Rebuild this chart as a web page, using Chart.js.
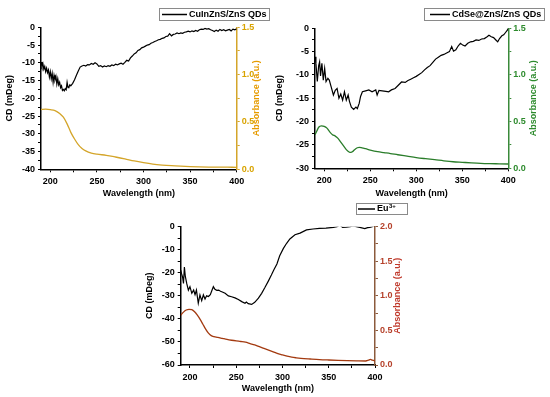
<!DOCTYPE html>
<html>
<head>
<meta charset="utf-8">
<script src="https://cdn.jsdelivr.net/npm/chart.js@4.4.1/dist/chart.umd.min.js"></script>
<style>
  html, body { margin: 0; padding: 0; background: #fff; }
  #wrap { position: relative; width: 550px; height: 397px; overflow: hidden; }
  canvas { position: absolute; }
</style>
</head>
<body>
<div id="wrap">
  <canvas id="c1" width="270" height="200" style="left:0;top:0"></canvas>
  <canvas id="c2" width="280" height="200" style="left:270px;top:0"></canvas>
  <canvas id="c3" width="280" height="202" style="left:140px;top:195px"></canvas>
</div>
<script>
// wavelength axis (nm)
const wlLabeled = [200, 250, 300, 350, 400];
const wlMinor = [225, 275, 325, 375];

// --- CuInZnS/ZnS QDs ---
const cuCdWl = [190,191,192,193,194,195,196,197,198,199,
  200,201,202,203,204,205,206,207,208,209,
  210,211,212,213,214,215,216,217,218,219,
  220,221,222,224,226,228,230,232,234,236,238,240,242,244,246,248,250,
  252,254,256,258,260,262,264,266,268,270,272,274,276,278,280,
  282,284,286,288,290,292,294,296,298,300,302,304,306,308,310,
  312,314,316,318,320,322,324,326,328,330,332,334,336,338,340,
  342,344,346,348,350,352,354,356,358,360,362,364,366,368,370,
  372,374,376,378,380,382,384,386,388,390,392,394,396,398,400];
const cuCd = [-9.8,-11,-10.2,-11.8,-11,-12.5,-11.5,-12.8,-12,-14,
  -12.5,-14.5,-13,-15.5,-13.5,-14.8,-13.8,-16,-14.5,-16.2,
  -15.5,-17,-16.5,-17.8,-17.5,-17.9,-17.3,-17.6,-15.5,-17,
  -16.8,-16.2,-16.5,-15.8,-14.8,-13.5,-12.3,-11.2,-10.9,-10.7,-10.9,-10.5,-10.6,-10.2,-10.4,-10,-10.3,
  -11,-10.8,-11.2,-10.9,-11.1,-10.8,-11,-10.6,-10.8,-10.4,-10.6,-10.3,-10.1,-10.4,-9.9,
  -9.3,-9.5,-8.6,-8.1,-7.5,-7.2,-6.5,-6.3,-5.8,-5.6,-5.3,-5.0,-4.9,-4.5,-4.3,
  -4.0,-3.8,-3.5,-3.4,-3.1,-3.0,-2.6,-2.5,-1.8,-2.4,-2.0,-1.9,-1.6,-1.8,-1.6,
  -1.7,-1.4,-1.3,-1.1,-1.3,-1.0,-1.2,-0.9,-1.1,-0.7,-0.5,-0.6,-0.3,-0.5,-0.4,
  -0.7,-0.9,-1.2,-0.8,-1.1,-0.6,-0.9,-0.7,-1.0,-0.8,-0.6,-1.0,-0.5,-0.7,-0.4];
const cuAbsWl = [190,195,200,205,210,214,218,222,226,230,234,238,244,250,
  260,270,280,290,300,310,320,330,340,350,360,370,380,390,400];
const cuAbs = [0.63,0.635,0.63,0.62,0.59,0.55,0.48,0.39,0.32,0.26,0.22,0.195,0.172,0.16,
  0.148,0.13,0.11,0.088,0.07,0.055,0.045,0.038,0.033,0.029,0.026,0.024,0.023,0.022,0.021];
const cuCdTicks = [0, -5, -10, -15, -20, -25, -30, -35, -40];
const cuCdMinor = [-2.5, -7.5, -12.5, -17.5, -22.5, -27.5, -32.5, -37.5];
const cuAbsTicks = [0, 0.5, 1.0, 1.5];
const cuAbsMinor = [0.25, 0.75, 1.25];

// --- CdSe@ZnS/ZnS QDs ---
const cdCdWl = [190,191,192.5,194,195,196,197.5,199,200.5,202,
  204,205.5,207.5,210,212,214,216,218,220,222,
  224,226,227.5,229.5,232,234.5,236,238,239.5,241.5,
  245,248.5,252,256,257.5,259.5,263,267,270,273,
  277,280.5,284,288,291,294,297,300,303,306,
  309,312,315,318,321,324,327,330,333,336,
  338.5,340.5,343,345.5,348,350.5,353,356,359,362,
  365,368,371,374,377,379,381.5,384,386.5,388.5,
  390.5,393,395,397,399,400];
const cdCd = [-6.1,-7.5,-11.4,-8,-7.2,-10.2,-7.5,-11.1,-8.6,-11.4,
  -10.7,-11.1,-12.5,-14.3,-13.3,-12.9,-15,-14.1,-15.4,-13.6,
  -15.4,-14.3,-15.7,-16.9,-17.4,-16.9,-17.2,-16.1,-14.6,-13.6,
  -13.4,-13.2,-13.6,-13.2,-14.3,-13.3,-13.4,-13.5,-13.6,-13.2,
  -12.9,-12.2,-11.5,-11.6,-11.2,-10.9,-10.6,-10.3,-9.9,-9.5,
  -8.9,-8.4,-8.0,-7.3,-6.6,-6.2,-5.8,-5.6,-5.3,-5.0,
  -3.9,-4.9,-4.6,-3.8,-3.2,-3.6,-3.8,-3.2,-2.9,-2.8,
  -2.5,-2.6,-2.3,-2.2,-1.8,-1.5,-1.8,-2.0,-2.5,-2.9,
  -2.2,-1.6,-1.4,-0.9,-0.4,0];
const cdAbsWl = [190,192,194,197,200,203,206,209,212,215,
  218,221,224,227,229,231,233,236,238,241,
  245,250,258,265,272,280,290,300,310,320,
  330,340,350,360,370,380,390,400];
const cdAbs = [0.36,0.40,0.44,0.455,0.45,0.43,0.39,0.36,0.345,0.32,
  0.28,0.24,0.20,0.175,0.17,0.18,0.20,0.22,0.225,0.22,
  0.21,0.196,0.178,0.168,0.158,0.145,0.13,0.115,0.103,0.092,
  0.08,0.07,0.064,0.058,0.053,0.05,0.048,0.046];
const cdCdTicks = [0, -5, -10, -15, -20, -25, -30];
const cdCdMinor = [-2.5, -7.5, -12.5, -17.5, -22.5, -27.5];
const cdAbsTicks = [0, 0.5, 1.0, 1.5];
const cdAbsMinor = [0.25, 0.75, 1.25];

// --- Eu3+ ---
const euCdWl = [190,191,192,193,194,195,196.5,198.3,200,202,
  204,205.5,207,209,210.8,212.7,214.5,216.3,218,220,
  222,223.5,225.3,227,229,231,233,235,238,241.5,
  245,248.7,252.3,256,259.5,261,263,266.7,270,274,
  277.5,281,284.7,288,291,294,297,301,304.5,308,
  313.5,319,326,333,340,347,355,359,362,365,
  369,373,376.4,380,383.6,389,392,394.4,397,400];
const euCd = [-18.8,-20.5,-21.8,-24.6,-17.5,-21.6,-24.6,-27.5,-26,-28.9,
  -27.5,-29.5,-27.5,-33.2,-29.6,-32.1,-29.6,-31.4,-30,-30.3,
  -29.5,-27.9,-26.0,-27.2,-27.6,-27.5,-28.0,-28.3,-28.9,-30.0,
  -30.4,-30.9,-31.6,-32.5,-33.2,-32.7,-33.4,-33.7,-32.8,-31.0,
  -28.9,-26.4,-23.6,-21.0,-18.5,-16.2,-12.6,-9.4,-7.2,-5.3,
  -3.5,-2.8,-1.4,-1.0,-0.7,-0.6,-0.3,0.0,0.7,-0.3,
  -0.2,0.0,0.3,0.0,-0.3,-0.8,-0.4,-0.3,0.0,0.6];
const euAbsWl = [190,193,196,199,202,205,208,211,214,217,
  220,223,226,230,235,240,245,250,255,260,
  265,270,275,280,285,290,295,300,305,310,
  315,320,330,340,350,360,370,380,390,393,
  395,397,400];
const euAbs = [0.72,0.765,0.795,0.805,0.80,0.77,0.72,0.66,0.59,0.52,
  0.46,0.425,0.41,0.40,0.385,0.37,0.358,0.348,0.34,0.33,
  0.31,0.29,0.265,0.24,0.215,0.19,0.165,0.145,0.127,0.113,
  0.104,0.097,0.087,0.078,0.072,0.067,0.063,0.06,0.058,0.07,
  0.08,0.072,0.06];
const euCdTicks = [0, -10, -20, -30, -40, -50, -60];
const euCdMinor = [-5, -15, -25, -35, -45, -55];
const euAbsTicks = [0, 0.5, 1.0, 1.5, 2.0];
const euAbsMinor = [0.25, 0.75, 1.25, 1.75];

const FONT = '"Liberation Sans", Arial, sans-serif';
Chart.defaults.font.family = FONT;
Chart.defaults.font.size = 9;
Chart.defaults.font.weight = 'bold';
Chart.defaults.color = '#000';

function pts(xs, ys) {
  return xs.map((x, i) => ({ x: x, y: ys[i] }));
}
function setTicks(major, minor) {
  const all = major.concat(minor).sort((a, b) => a - b);
  return s => { s.ticks = all.map(v => ({ value: v })); };
}
function tickText(major, digits) {
  return v => major.includes(v) ? v.toFixed(digits) : '';
}

// right-hand axis title (reads upward) and the boxed legend
const panelDecor = {
  id: 'panelDecor',
  afterDraw(chart, args, o) {
    const ctx = chart.ctx, ca = chart.chartArea;
    ctx.save();
    ctx.translate(o.titleX, (ca.top + ca.bottom) / 2);
    ctx.rotate(-Math.PI / 2);
    ctx.fillStyle = o.titleColor;
    ctx.font = 'bold 9px ' + FONT;
    ctx.textAlign = 'center';
    ctx.textBaseline = 'middle';
    ctx.fillText(o.title, 0, 0);
    ctx.restore();

    const b = o.box;
    const midY = b.y + b.h / 2 + 0.5;
    ctx.save();
    ctx.strokeStyle = '#8a8a8a';
    ctx.lineWidth = 1;
    ctx.strokeRect(b.x + 0.5, b.y + 0.5, b.w, b.h);
    ctx.strokeStyle = '#000';
    ctx.lineWidth = 1.5;
    ctx.beginPath();
    ctx.moveTo(b.x + b.lineFrom, midY);
    ctx.lineTo(b.x + b.lineTo, midY);
    ctx.stroke();
    ctx.fillStyle = '#000';
    ctx.textBaseline = 'middle';
    ctx.font = 'bold 9px ' + FONT;
    const label = chart.data.datasets[0].label;
    ctx.fillText(label, b.x + b.textX, midY, b.w - b.textX - 1);
    if (b.sup) {
      const w = ctx.measureText(label).width;
      ctx.font = 'bold 6px ' + FONT;
      ctx.fillText(b.sup, b.x + b.textX + w + 0.5, midY - 3);
    }
    ctx.restore();
  }
};

function makePanel(id, p) {
  return new Chart(document.getElementById(id), {
    type: 'line',
    data: {
      datasets: [{
        label: p.label,
        data: pts(p.cdWl, p.cd),
        yAxisID: 'y',
        borderColor: '#000',
        borderWidth: 1.2,
        pointRadius: 0,
        tension: 0
      }, {
        label: 'Absorbance',
        data: pts(p.absWl, p.abs),
        yAxisID: 'y1',
        borderColor: p.lineColor,
        borderWidth: 1.3,
        pointRadius: 0,
        cubicInterpolationMode: 'monotone'
      }]
    },
    options: {
      responsive: false,
      animation: false,
      events: [],
      devicePixelRatio: 1,
      layout: { padding: { top: p.area.t, left: 0, right: 0, bottom: 0 } },
      plugins: {
        legend: { display: false },
        tooltip: { enabled: false },
        panelDecor: {
          title: 'Absorbance (a.u.)',
          titleX: p.rightTitleX,
          titleColor: p.titleColor,
          box: p.box
        }
      },
      scales: {
        x: {
          type: 'linear', min: 190, max: 400,
          afterBuildTicks: setTicks(wlLabeled, wlMinor),
          afterFit: s => { s.height = p.h - p.area.b; },
          grid: { drawOnChartArea: false, tickLength: 3, color: '#000' },
          border: { color: '#000', width: 1.5 },
          ticks: { autoSkip: false, maxRotation: 0, padding: 4, callback: tickText(wlLabeled, 0) },
          title: { display: true, text: 'Wavelength (nm)', padding: { top: 0, bottom: p.xTitlePad } }
        },
        y: {
          position: 'left', min: p.cdMin, max: 0,
          afterBuildTicks: setTicks(p.cdTicks, p.cdMinor),
          afterFit: s => { s.width = p.area.l; },
          grid: { drawOnChartArea: false, tickLength: 3, color: '#000' },
          border: { color: '#000', width: 1.5 },
          ticks: { autoSkip: false, padding: 3, callback: tickText(p.cdTicks, 0) },
          title: { display: true, text: 'CD (mDeg)', padding: { top: 4.6, bottom: 0 } }
        },
        y1: {
          position: 'right', min: 0, max: p.absMax,
          afterBuildTicks: setTicks(p.absTicks, p.absMinor),
          afterFit: s => { s.width = p.w - p.area.r; },
          grid: { drawOnChartArea: false, tickLength: 3, color: p.axisColor },
          border: { color: p.axisColor, width: 1.5 },
          ticks: { autoSkip: false, padding: 2, color: p.tickColor, callback: tickText(p.absTicks, 1) }
        }
      }
    },
    plugins: [panelDecor]
  });
}

makePanel('c1', {
  label: 'CuInZnS/ZnS QDs',
  cdWl: cuCdWl, cd: cuCd, absWl: cuAbsWl, abs: cuAbs,
  cdMin: -40, cdTicks: cuCdTicks, cdMinor: cuCdMinor,
  absMax: 1.5, absTicks: cuAbsTicks, absMinor: cuAbsMinor,
  w: 270, h: 200,
  area: { l: 41, t: 27.3, r: 236.7, b: 169.3 },
  xTitlePad: 1.3, rightTitleX: 256.7,
  lineColor: '#d4a52a', axisColor: '#d4a52a', tickColor: '#d9a300', titleColor: '#e69b00',
  box: { x: 159, y: 8, w: 110, h: 12, lineFrom: 3, lineTo: 28, textX: 30 }
});

makePanel('c2', {
  label: 'CdSe@ZnS/ZnS QDs',
  cdWl: cdCdWl, cd: cdCd, absWl: cdAbsWl, abs: cdAbs,
  cdMin: -30, cdTicks: cdCdTicks, cdMinor: cdCdMinor,
  absMax: 1.5, absTicks: cdAbsTicks, absMinor: cdAbsMinor,
  w: 280, h: 200,
  area: { l: 45, t: 28.3, r: 238.3, b: 168.3 },
  xTitlePad: 0.6, rightTitleX: 263.3,
  lineColor: '#2a7d2a', axisColor: '#3a8a3a', tickColor: '#2e8b2e', titleColor: '#2e8b2e',
  box: { x: 154, y: 8, w: 120, h: 12, lineFrom: 6, lineTo: 26, textX: 28 }
});

makePanel('c3', {
  label: 'Eu',
  cdWl: euCdWl, cd: euCd, absWl: euAbsWl, abs: euAbs,
  cdMin: -60, cdTicks: euCdTicks, cdMinor: euCdMinor,
  absMax: 2.0, absTicks: euAbsTicks, absMinor: euAbsMinor,
  w: 280, h: 202,
  area: { l: 40.7, t: 31.7, r: 235, b: 170 },
  xTitlePad: 3.3, rightTitleX: 258,
  lineColor: '#a33a10', axisColor: '#8b5a3c', tickColor: '#b5402a', titleColor: '#c0392b',
  box: { x: 216, y: 8, w: 51, h: 11, lineFrom: 2, lineTo: 19, textX: 21, sup: '3+' }
});
</script>
</body>
</html>
